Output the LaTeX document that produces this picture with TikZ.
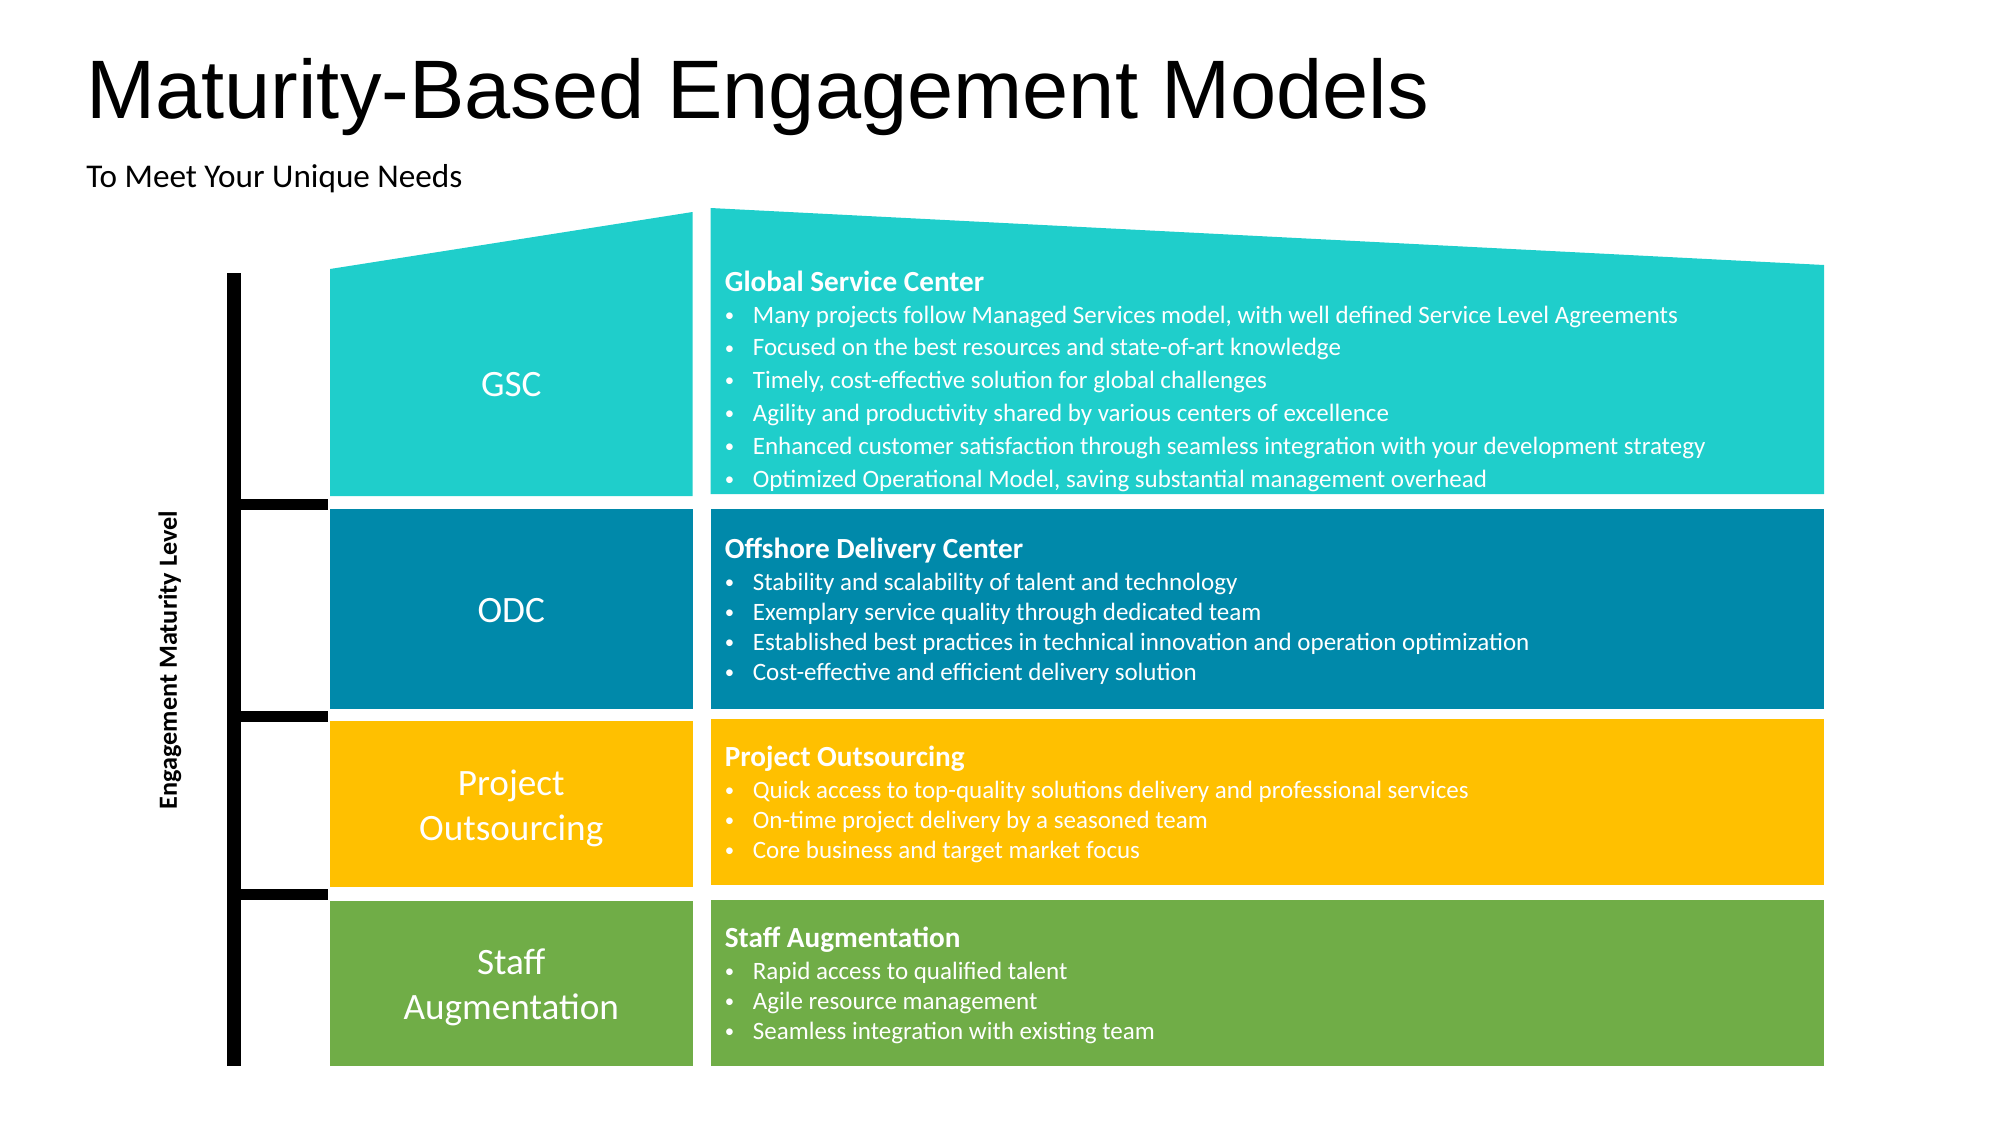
\documentclass[tikz,border=0pt]{standalone}
\usepackage{fontspec}
\setmainfont{Carlito}
\newfontfamily\titlefont{Liberation Sans}
\definecolor{cgsc}{HTML}{1FCECB}
\definecolor{codc}{HTML}{0089AA}
\definecolor{cpo}{HTML}{FFC000}
\definecolor{csa}{HTML}{70AD47}
\newcommand\mybul[1]{\makebox[14pt][l]{\raisebox{0.6pt}{\scalebox{0.75}{\textbullet}}}#1}
\begin{document}
\begin{tikzpicture}[x=0.5pt,y=-0.5pt,
  lbl/.style={text=white, inner sep=0pt, align=center, font=\fontsize{18.6}{22.5}\selectfont},
  head/.style={anchor=base west, text=white, inner sep=0pt, font=\bfseries\fontsize{14.6}{17}\selectfont},
  bul/.style={anchor=base west, text=white, inner sep=0pt, font=\fontsize{12.5}{15}\selectfont}]
\useasboundingbox (0,0) rectangle (2000,1125);
% title
\node[anchor=base west, inner sep=0pt, font=\titlefont\fontsize{41.5}{48}\selectfont] (title) at (86,118.6) {Maturity-Based Engagement Models};
\node[anchor=base west, inner sep=0pt, font=\fontsize{16.6}{19}\selectfont] (sub) at (86,187.5) {To Meet Your Unique Needs};
% left boxes
\fill[cgsc] (330,269) -- (692.5,212) -- (692.5,496) -- (330,496) -- cycle;
\fill[codc] (330,509) rectangle (692.5,709);
\fill[cpo] (330,721) rectangle (692.5,887);
\fill[csa] (330,901) rectangle (692.5,1066);
% right boxes
\fill[cgsc] (710.5,208) -- (1824,265) -- (1824,494) -- (710.5,494) -- cycle;
\fill[codc] (710.5,509) rectangle (1824,709);
\fill[cpo] (710.5,719) rectangle (1824,885);
\fill[csa] (710.5,899.5) rectangle (1824,1066);
% maturity bar
\coordinate (bt) at (234,273);
\coordinate (bb) at (234,1066);
\draw[line width=7pt] (bt) -- (bb);
\coordinate (t1a) at (234,504); \coordinate (t1b) at (328,504);
\coordinate (t2a) at (234,716); \coordinate (t2b) at (328,716);
\coordinate (t3a) at (234,894); \coordinate (t3b) at (328,894);
\draw[line width=5.5pt] (t1a) -- (t1b);
\draw[line width=5.5pt] (t2a) -- (t2b);
\draw[line width=5.5pt] (t3a) -- (t3b);
\node[rotate=90, inner sep=0pt, font=\bfseries\fontsize{13.1}{15}\selectfont] (axis) at (170,660) {Engagement Maturity Level};
% left labels
\node[lbl, anchor=base] (lgsc) at (511.25,396) {GSC};
\node[lbl, anchor=base] (lodc) at (511.25,622) {ODC};
\node[lbl] (lpo) at (511.25,808) {Project\\Outsourcing};
\node[lbl] (lsa) at (511.25,987) {Staff\\Augmentation};
% GSC text
\node[head] (hgsc) at (724.5,291) {Global Service Center};
\node[bul] (g1) at (724.5,323) {\mybul{Many projects follow Managed Services model, with well defined Service Level Agreements}};
\node[bul] (g2) at (724.5,355.5) {\mybul{Focused on the best resources and state-of-art knowledge}};
\node[bul] (g3) at (724.5,388) {\mybul{Timely, cost-effective solution for global challenges}};
\node[bul] (g4) at (724.5,421) {\mybul{Agility and productivity shared by various centers of excellence}};
\node[bul] (g5) at (724.5,454) {\mybul{Enhanced customer satisfaction through seamless integration with your development strategy}};
\node[bul] (g6) at (724.5,487) {\mybul{Optimized Operational Model, saving substantial management overhead}};
% ODC text
\node[head] (hodc) at (724.5,558) {Offshore Delivery Center};
\node[bul] (o1) at (724.5,590) {\mybul{Stability and scalability of talent and technology}};
\node[bul] (o2) at (724.5,620) {\mybul{Exemplary service quality through dedicated team}};
\node[bul] (o3) at (724.5,650) {\mybul{Established best practices in technical innovation and operation optimization}};
\node[bul] (o4) at (724.5,680) {\mybul{Cost-effective and efficient delivery solution}};
% PO text
\node[head] (hpo) at (724.5,766) {Project Outsourcing};
\node[bul] (p1) at (724.5,798) {\mybul{Quick access to top-quality solutions delivery and professional services}};
\node[bul] (p2) at (724.5,828) {\mybul{On-time project delivery by a seasoned team}};
\node[bul] (p3) at (724.5,858) {\mybul{Core business and target market focus}};
% SA text
\node[head] (hsa) at (724.5,947) {Staff Augmentation};
\node[bul] (s1) at (724.5,979) {\mybul{Rapid access to qualified talent}};
\node[bul] (s2) at (724.5,1009) {\mybul{Agile resource management}};
\node[bul] (s3) at (724.5,1039) {\mybul{Seamless integration with existing team}};
\end{tikzpicture}
\end{document}
